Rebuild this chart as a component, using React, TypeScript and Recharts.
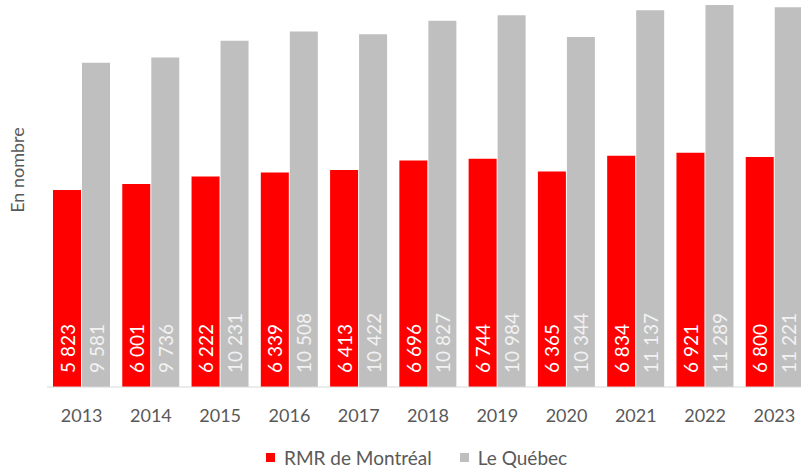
import { Bar, BarChart, XAxis, YAxis } from "recharts";

const years = ["2013", "2014", "2015", "2016", "2017", "2018", "2019", "2020", "2021", "2022", "2023"];
const montreal = [5823, 6001, 6222, 6339, 6413, 6696, 6744, 6365, 6834, 6921, 6800];
const quebec = [9581, 9736, 10231, 10508, 10422, 10827, 10984, 10344, 11137, 11289, 11221];

const data = years.map((y, i) => ({ year: y, montreal: montreal[i], quebec: quebec[i] }));

const FONT = "Lato, 'Open Sans', sans-serif";

const fmt = (v: number) => String(v).replace(/\B(?=(\d{3})+(?!\d))/g, " ");

function makeLabel(fill: string) {
  return (props: any) => {
    const { x, y, width, height, value } = props;
    const cx = x + width / 2;
    const cy = y + height - 14;
    return (
      <text
        x={cx}
        y={cy}
        transform={`rotate(-90 ${cx} ${cy})`}
        textAnchor="start"
        dominantBaseline="central"
        fill={fill}
        fontSize={19}
        fontFamily={FONT}
      >
        {fmt(value)}
      </text>
    );
  };
}

function LegendBox() {
  const item = (color: string, label: string, gap: number) => (
    <span style={{ display: "inline-flex", alignItems: "center", marginRight: gap }}>
      <span style={{ width: 9, height: 9, background: color, display: "inline-block", marginRight: 9 }} />
      <span style={{ color: "#595959", fontSize: 19, fontFamily: FONT }}>{label}</span>
    </span>
  );
  return (
    <div style={{ position: "absolute", left: 266, top: 446, display: "flex", whiteSpace: "nowrap" }}>
      {item("#ff0000", "RMR de Montréal", 28)}
      {item("#bfbfbf", "Le Québec", 0)}
    </div>
  );
}

export default function App() {
  return (
    <div style={{ position: "absolute", left: 0, top: 0, width: 801, height: 471, overflow: "hidden", background: "#fff" }}>
      <div
        style={{
          position: "absolute",
          left: 17,
          top: 170,
          transform: "translate(-50%, -50%) rotate(-90deg)",
          color: "#595959",
          fontSize: 18,
          fontFamily: FONT,
          whiteSpace: "nowrap",
        }}
      >
        En nombre
      </div>
      <BarChart
        width={810}
        height={471}
        data={data}
        margin={{ top: 5, right: 1, bottom: 54, left: 47 }}
        barCategoryGap={6}
        barGap={1}
      >
        <XAxis
          dataKey="year"
          axisLine={{ stroke: "#d9d9d9" }}
          tickLine={false}
          tick={{ fill: "#595959", fontSize: 18, fontFamily: FONT }}
          tickMargin={16}
          height={30}
        />
        <YAxis hide domain={[0, 11289]} />
        <Bar dataKey="montreal" name="RMR de Montréal" fill="#ff0000" isAnimationActive={false} label={makeLabel("#ffffff")} />
        <Bar dataKey="quebec" name="Le Québec" fill="#bfbfbf" isAnimationActive={false} label={makeLabel("#f2f2f2")} />
      </BarChart>
      <LegendBox />
    </div>
  );
}
